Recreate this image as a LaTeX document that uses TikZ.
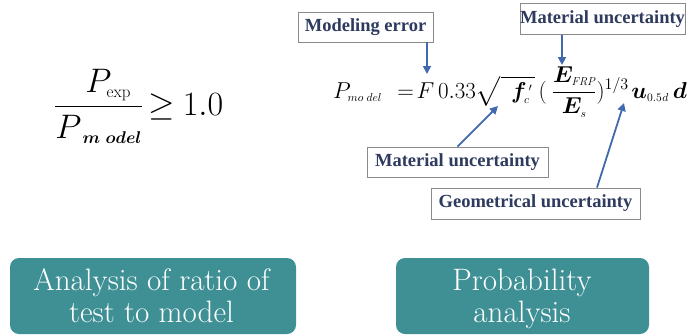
\documentclass[tikz,border=0pt]{standalone}
\usepackage{fix-cm}
\usepackage{amsmath,bm}
\usepackage{fontspec}
\newfontfamily\labelfont[BoldFont={Liberation Serif Bold}]{Liberation Serif}
\definecolor{tealbox}{HTML}{3E9095}
\definecolor{arrowblue}{HTML}{4169B0}
\definecolor{labeltext}{HTML}{2E3A5E}
\definecolor{boxline}{HTML}{8A8A8A}
\usetikzlibrary{arrows.meta}
\begin{document}
\begin{tikzpicture}[x=1pt,y=-1pt,
  lbl/.style={draw=boxline, line width=0.9pt, fill=white, text=labeltext,
    font=\labelfont\bfseries\fontsize{18.5}{22}\selectfont, inner sep=0pt},
  arr/.style={draw=arrowblue, line width=1.8pt, -{Triangle[length=8pt,width=8pt]}},
  tbox/.style={fill=tealbox, rounded corners=9pt, inner sep=0pt},
  btxt/.style={text=white, inner sep=0pt, anchor=base, font=\fontsize{31}{32}\selectfont}]
\useasboundingbox (0,0) rectangle (692,335);

% left formula
\node[anchor=base west, inner sep=0pt, font=\fontsize{34}{40}\selectfont] (ratio) at (54,115)
  {$\dfrac{\mkern10mu P_{\scriptscriptstyle\exp}}{P_{\scriptscriptstyle\mkern6mu\bm{m\,\,odel}}}\mkern3mu{\geq}\mkern4mu 1.0$};

% right formula
\node[anchor=base west, inner sep=0pt, font=\fontsize{23}{28}\selectfont] (model) at (333,98)
  {$P_{\scriptscriptstyle mo\;del}\mkern12mu{=}\mkern2mu F\,0.33\sqrt{\mkern8mu\bm{f}_{\scriptscriptstyle c}^{\scriptscriptstyle\,\prime}\mkern2mu}\mkern3mu(\mkern4mu\dfrac{\bm{E}_{\scriptscriptstyle \mathit{FRP}}}{\bm{E}_{\scriptscriptstyle s}})^{1/3}\mkern2mu\bm{u}_{\scriptscriptstyle 0.5\mkern1mu d}\mkern3mu\bm{d}$};

\coordinate (tipA) at (427,74);
\coordinate (tipB) at (562,65);
\coordinate (tipC) at (498,106);
\coordinate (tipD) at (624,103);

% labels
\node[lbl, minimum width=135pt, minimum height=30pt] (me) at (365.5,27) {Modeling error};
\node[lbl, minimum width=165pt, minimum height=31pt] (mu1) at (602.5,19) {Material uncertainty};
\node[lbl, minimum width=181pt, minimum height=30pt] (mu2) at (457.5,162) {Material uncertainty};
\node[lbl, minimum width=209pt, minimum height=31pt] (geo) at (535.5,203.5) {Geometrical uncertainty};

\draw[arr] (me.south -| tipA) -- (tipA);
\draw[arr] (mu1.south -| tipB) -- (tipB);
\draw[arr] (mu2.north) -- (tipC);
\draw[arr] (geo.north -| 597,0) -- (tipD);

% bottom boxes
\node[tbox, minimum width=286pt, minimum height=76pt] (b1) at (153,296) {};
\node[btxt] (b1a) at (151.5,290) {Analysis of ratio of};
\node[btxt] (b1b) at (151.5,322) {test to model};
\node[tbox, minimum width=253pt, minimum height=76pt] (b2) at (522.5,296) {};
\node[btxt] (b2a) at (522,290) {Probability};
\node[btxt] (b2b) at (522,322) {analysis};
\end{tikzpicture}
\end{document}
